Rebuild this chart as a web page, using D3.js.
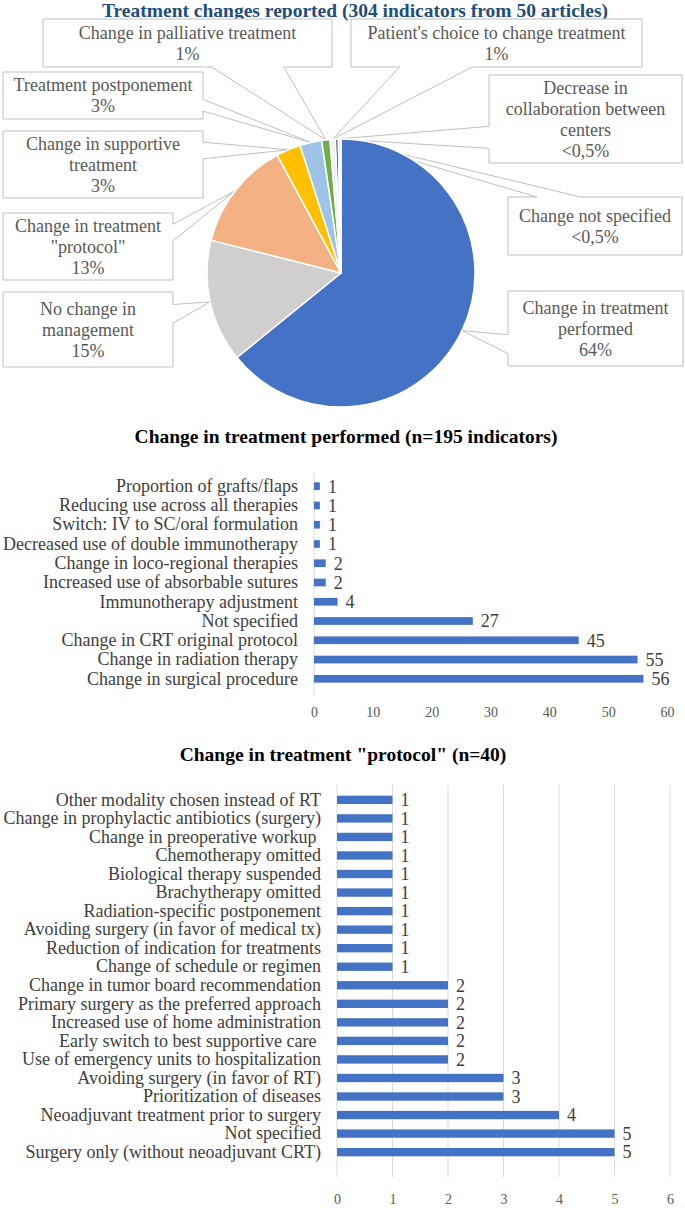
<!DOCTYPE html>
<html><head><meta charset="utf-8">
<script src="https://cdn.jsdelivr.net/npm/d3@7"></script>
<style>
html,body{margin:0;padding:0;background:#fff;}
svg{display:block;}
svg text{font-family:'Liberation Serif','Times New Roman','DejaVu Serif',serif;white-space:pre;}
</style></head><body>
<svg id="chart" width="685" height="1208" font-family="Liberation Serif, Times New Roman, DejaVu Serif, serif"></svg>
<script>
// ---------------- DATA ----------------
const pieTitle = "Treatment changes reported (304 indicators from 50 articles)";
const pieCategories = ["Change in treatment performed","No change in management","Change in treatment \"protocol\"","Change in supportive treatment","Treatment postponement","Change in palliative treatment","Patient's choice to change treatment","Decrease in collaboration between centers","Change not specified"];
const pieValues = [195, 45, 40, 9, 8, 3, 2, 1, 1];
const pieShareLabels = ["64%","15%","13%","3%","3%","1%","1%","<0,5%","<0,5%"];
const pieLabelLines = [["Change in treatment","performed"],["No change in","management"],["Change in treatment","\"protocol\""],["Change in supportive","treatment"],["Treatment postponement"],["Change in palliative treatment"],["Patient's choice to change treatment"],["Decrease in","collaboration between","centers"],["Change not specified"]];
const pieColors = ["#4472C4","#D0CECE","#F4B183","#FFC000","#9DC3E6","#70AD47","#F2F2F2","#203864","#F2F2F2"];

const performedTitle = "Change in treatment performed (n=195 indicators)";
const performedCategories = ["Proportion of grafts/flaps","Reducing use across all therapies","Switch: IV to SC/oral formulation","Decreased use of double immunotherapy","Change in loco-regional therapies","Increased use of absorbable sutures","Immunotherapy adjustment","Not specified","Change in CRT original protocol","Change in radiation therapy","Change in surgical procedure"];
const performedValues = [1, 1, 1, 1, 2, 2, 4, 27, 45, 55, 56];
const performedTicks = [0, 10, 20, 30, 40, 50, 60];

const protocolTitle = "Change in treatment \"protocol\" (n=40)";
const protocolCategories = ["Other modality chosen instead of RT","Change in prophylactic antibiotics (surgery)","Change in preoperative workup ","Chemotherapy omitted","Biological therapy suspended","Brachytherapy omitted","Radiation-specific postponement","Avoiding surgery (in favor of medical tx)","Reduction of indication for treatments","Change of schedule or regimen","Change in tumor board recommendation","Primary surgery as the preferred approach","Increased use of home administration","Early switch to best supportive care ","Use of emergency units to hospitalization","Avoiding surgery (in favor of RT)","Prioritization of diseases","Neoadjuvant treatment prior to surgery","Not specified","Surgery only (without neoadjuvant CRT)"];
const protocolValues = [1,1,1,1,1,1,1,1,1,1,2,2,2,2,2,3,3,4,5,5];
const protocolTicks = [0, 1, 2, 3, 4, 5, 6];

// ---------------- LAYOUT ----------------
const FONT = "Liberation Serif, Times New Roman, DejaVu Serif, serif";
const svg = d3.select("#chart");
const PIE_CX = 341, PIE_CY = 273, PIE_R = 134;
const calloutBoxes = [
  {x:508, y:291, w:175, h:75},  // performed
  {x:3,   y:292, w:170, h:75},  // no change
  {x:3,   y:213, w:170, h:67},  // protocol
  {x:3,   y:131, w:200, h:67},  // supportive
  {x:3,   y:72,  w:200, h:47},  // postponement
  {x:43,  y:19,  w:289, h:48},  // palliative
  {x:351, y:19,  w:291, h:48},  // patient's choice
  {x:489, y:75,  w:193, h:88},  // decrease
  {x:508, y:197, w:174, h:58}   // not specified
];
const LINE_H = 21;

// ---------------- PIE ----------------
svg.append("text").attr("x", 355).attr("y", 17).attr("text-anchor","middle").attr("font-family", FONT)
  .attr("font-size", 19.5).attr("font-weight","bold").attr("fill","#1F4E79").text(pieTitle);

const pie = d3.pie().sort(null).value(d => d)(pieValues);
const arc = d3.arc().innerRadius(0).outerRadius(PIE_R);
const tipArc = d3.arc().innerRadius(PIE_R).outerRadius(PIE_R);

function calloutPath(b, tx, ty){
  const {x,y,w,h} = b; const cx = x + w/2, cy = y + h/2;
  const dx = tx - cx, dy = ty - cy;
  const x1 = x + w*(dx<0?2:7)/12, x2 = x + w*(dx<0?5:10)/12;
  const y1 = y + h*(dy<0?2:7)/12, y2 = y + h*(dy<0?5:10)/12;
  let pts;
  if (Math.abs(dx)*h > Math.abs(dy)*w) {
    if (dx < 0) pts = [[x,y],[x+w,y],[x+w,y+h],[x,y+h],[x,y2],[tx,ty],[x,y1]];
    else pts = [[x,y],[x+w,y],[x+w,y1],[tx,ty],[x+w,y2],[x+w,y+h],[x,y+h]];
  } else {
    if (dy < 0) pts = [[x,y],[x1,y],[tx,ty],[x2,y],[x+w,y],[x+w,y+h],[x,y+h]];
    else pts = [[x,y],[x+w,y],[x+w,y+h],[x2,y+h],[tx,ty],[x1,y+h],[x,y+h]];
  }
  return "M" + pts.map(p => p.join(",")).join("L") + "Z";
}

const calloutG = svg.append("g");
pie.forEach((d, i) => {
  const c = tipArc.centroid(d);
  const tx = PIE_CX + c[0], ty = PIE_CY + c[1];
  calloutG.append("path").attr("d", calloutPath(calloutBoxes[i], tx, ty))
    .attr("fill","#fff").attr("stroke","#BFBFBF").attr("stroke-width",1);
});

const pieG = svg.append("g").attr("transform", `translate(${PIE_CX},${PIE_CY})`);
pieG.selectAll("path").data(pie).join("path")
  .attr("d", arc).attr("fill", (d,i) => pieColors[i])
  .attr("stroke","#fff").attr("stroke-width",1.5).attr("stroke-linejoin","round");

pie.forEach((d, i) => {
  const b = calloutBoxes[i];
  const lines = pieLabelLines[i].concat([pieShareLabels[i]]);
  const cx = b.x + b.w/2, cy = b.y + b.h/2;
  const t = svg.append("text").attr("text-anchor","middle").attr("font-family", FONT)
    .attr("font-size",18).attr("fill","#595959");
  lines.forEach((ln, k) => {
    t.append("tspan").attr("x", cx).attr("y", cy + (k - (lines.length-1)/2)*LINE_H)
      .attr("dy","0.34em").text(ln);
  });
});

// ---------------- BAR CHARTS ----------------
function barChart(opt){
  const {cats, vals, ticks, xRange, yRange, title, titleX, titleY, grid, gridY, axisLine, tickY, padding} = opt;
  const x = d3.scaleLinear().domain([ticks[0], ticks[ticks.length-1]]).range(xRange);
  const y = d3.scaleBand().domain(cats).range(yRange).padding(padding);
  svg.append("text").attr("x", titleX).attr("y", titleY).attr("text-anchor","middle").attr("font-family", FONT)
    .attr("font-size",19.5).attr("font-weight","bold").attr("fill","#000").text(title);
  if (grid) {
    svg.append("g").selectAll("line").data(ticks).join("line")
      .attr("x1", d => x(d)).attr("x2", d => x(d)).attr("y1", gridY[0]).attr("y2", gridY[1])
      .attr("stroke","#D9D9D9").attr("stroke-width",1);
  }
  if (axisLine) {
    svg.append("line").attr("x1", x(0)).attr("x2", x(0)).attr("y1", axisLine[0]).attr("y2", axisLine[1])
      .attr("stroke","#D9D9D9").attr("stroke-width",1);
  }
  svg.append("g").selectAll("rect").data(vals).join("rect")
    .attr("x", x(0)).attr("y", (d,i) => y(cats[i]))
    .attr("width", d => x(d) - x(0)).attr("height", y.bandwidth())
    .attr("fill","#4472C4");
  svg.append("g").selectAll("text").data(vals).join("text")
    .attr("x", d => x(d) + 8).attr("y", (d,i) => y(cats[i]) + y.bandwidth()/2)
    .attr("dy","0.35em").attr("font-family", FONT).attr("font-size",18).attr("fill","#404040").text(d => d);
  const yAxis = svg.append("g").attr("transform", `translate(${x(0)},0)`)
    .call(d3.axisLeft(y).tickSize(0).tickPadding(16));
  yAxis.attr("font-family", FONT);
  yAxis.select(".domain").remove();
  yAxis.selectAll("text").attr("font-size",18).attr("fill","#404040").attr("font-family", FONT);
  const xAxis = svg.append("g").attr("transform", `translate(0,${tickY})`)
    .call(d3.axisBottom(x).tickValues(ticks).tickFormat(d3.format("d")).tickSize(0).tickPadding(0));
  xAxis.attr("font-family", FONT);
  xAxis.select(".domain").remove();
  xAxis.selectAll("text").attr("font-size",14).attr("fill","#595959").attr("font-family", FONT).attr("dy","0.35em");
}

barChart({
  cats: performedCategories, vals: performedValues, ticks: performedTicks,
  xRange: [314, 667], yRange: [470.8, 694.2], padding: 0.6,
  title: performedTitle, titleX: 346, titleY: 443,
  grid: false, axisLine: [472, 696], tickY: 712
});

barChart({
  cats: protocolCategories, vals: protocolValues, ticks: protocolTicks,
  xRange: [337, 670], yRange: [785.5, 1166.5], padding: 0.55,
  title: protocolTitle, titleX: 343, titleY: 761,
  grid: true, gridY: [785, 1177], axisLine: null, tickY: 1199
});
</script>
</body></html>
